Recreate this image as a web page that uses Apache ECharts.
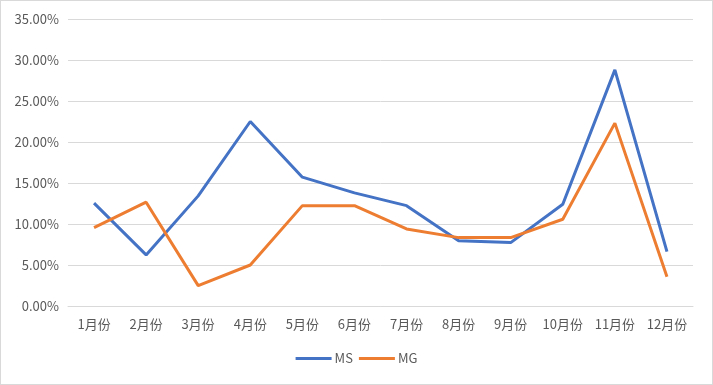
<!DOCTYPE html>
<html><head><meta charset="utf-8">
<script src="https://cdn.jsdelivr.net/npm/echarts@6/dist/echarts.min.js"></script>
<style>html,body{margin:0;padding:0;background:#fff}
#c{width:713px;height:385px;box-sizing:border-box;border:1px solid #d9d9d9}</style>
</head><body><div id="c"></div>
<script>
var categories = ['1月份','2月份','3月份','4月份','5月份','6月份','7月份','8月份','9月份','10月份','11月份','12月份'];
var msValues = [12.54, 6.23, 13.43, 22.5, 15.71, 13.8, 12.24, 7.97, 7.73, 12.41, 28.8, 6.63];
var mgValues = [9.56, 12.66, 2.48, 5.0, 12.24, 12.24, 9.40, 8.34, 8.34, 10.58, 22.3, 3.58];
var seriesNames = ['MS', 'MG'];
var chart = echarts.init(document.getElementById('c'), null, {renderer: 'canvas'});
var font = '"Noto Sans CJK SC", "Microsoft YaHei", sans-serif';
chart.setOption({
  animation: false,
  textStyle: {fontFamily: font},
  color: ['#4472C4', '#ED7D31'],
  grid: {left: 67, right: 19, top: 18, bottom: 78, containLabel: false},
  legend: {
    bottom: 14, left: 'center', itemGap: 6,
    icon: 'rect', itemWidth: 36, itemHeight: 3,
    textStyle: {color: '#595959', fontSize: 13, fontFamily: font, padding: [0,0,0,-2]},
    data: seriesNames
  },
  xAxis: {
    type: 'category', data: categories, boundaryGap: true,
    axisLine: {lineStyle: {color: '#d9d9d9'}},
    axisTick: {show: false},
    axisLabel: {color: '#595959', fontSize: 13, margin: 12, interval: 0}
  },
  yAxis: {
    type: 'value', min: 0, max: 35, interval: 5,
    axisLine: {show: false}, axisTick: {show: false},
    splitLine: {lineStyle: {color: '#d9d9d9'}},
    axisLabel: {color: '#595959', fontSize: 13, margin: 9, formatter: function(v){return v.toFixed(2)+'%';}}
  },
  series: [
    {name: seriesNames[0], type: 'line', data: msValues, symbol: 'none', lineStyle: {width: 3}},
    {name: seriesNames[1], type: 'line', data: mgValues, symbol: 'none', lineStyle: {width: 3}}
  ]
});
</script></body></html>
